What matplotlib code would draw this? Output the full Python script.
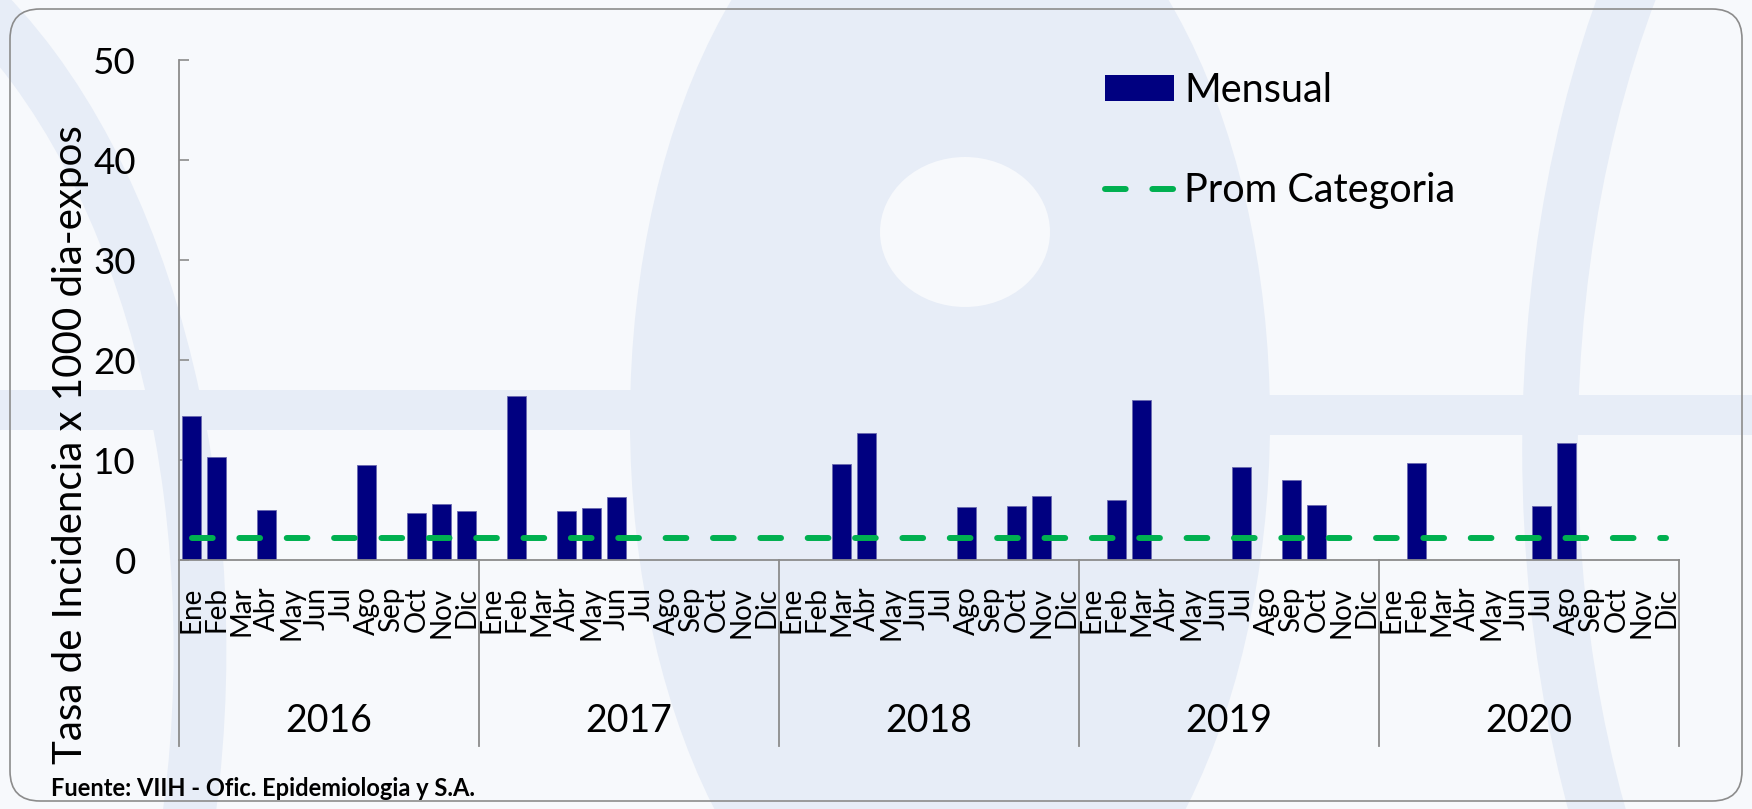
"""
Tasa de incidencia mensual 2016-2020 con promedio de categoria.
"""

import matplotlib
matplotlib.use("Agg")
import matplotlib.pyplot as plt
import matplotlib.patches as mpatches
import matplotlib.transforms as mtransforms
from matplotlib.lines import Line2D
import numpy as np

plt.rcParams["font.family"] = ["Lato", "DejaVu Sans"]
plt.rcParams["lines.scale_dashes"] = False

years = ["2016", "2017", "2018", "2019", "2020"]
months = ["Ene", "Feb", "Mar", "Abr", "May", "Jun",
          "Jul", "Ago", "Sep", "Oct", "Nov", "Dic"]

# tasa mensual x 1000 dia-expos, 12 valores por anio (0 = sin casos)
mensual_2016 = [14.4, 10.3, 0, 5.0, 0, 0, 0, 9.5, 0, 4.7, 5.6, 4.9]
mensual_2017 = [0, 16.4, 0, 4.9, 5.2, 6.3, 0, 0, 0, 0, 0, 0]
mensual_2018 = [0, 0, 9.6, 12.7, 0, 0, 0, 5.3, 0, 5.4, 6.4, 0]
mensual_2019 = [0, 6.0, 16.0, 0, 0, 0, 9.3, 0, 8.0, 5.5, 0, 0]
mensual_2020 = [0, 9.7, 0, 0, 0, 0, 5.4, 11.7, 0, 0, 0, 0]
prom_categoria = 2.2

mensual = np.array(mensual_2016 + mensual_2017 + mensual_2018
                   + mensual_2019 + mensual_2020)
x = np.arange(len(mensual))
labels = months * len(years)

fig = plt.figure(figsize=(17.52, 8.09), dpi=100)
fig.patch.set_facecolor("#F7F9FC")

# fondo: marca de agua tipo globo y marco redondeado
bg = fig.add_axes([0, 0, 1, 1], zorder=-5)
bg.set_xlim(0, 1752)
bg.set_ylim(809, 0)
bg.axis("off")
band = "#E7EDF7"
white = "#F7F9FC"
bg.add_patch(mpatches.Ellipse((950, 420), 640, 1150, fc=band, ec="none"))
bg.add_patch(mpatches.Ellipse((965, 232), 170, 150, fc=white, ec="none"))
bg.add_patch(mpatches.Arc((-250, 650), 900, 1500, theta1=-90, theta2=75, ec=band, lw=38))
bg.add_patch(mpatches.Arc((250, 900), 700, 1500, theta1=20, theta2=110, ec=band, lw=34))
bg.add_patch(mpatches.Arc((2050, 450), 1000, 1700, theta1=95, theta2=265, ec=band, lw=40))
bg.add_patch(mpatches.Arc((1500, 950), 700, 1500, theta1=70, theta2=160, ec=band, lw=34))
bg.add_patch(mpatches.Rectangle((0, 390), 700, 40, fc=band, ec="none"))
bg.add_patch(mpatches.Rectangle((1200, 395), 552, 40, fc=band, ec="none"))
bg.add_patch(mpatches.FancyBboxPatch((10, 9), 1732, 792,
                                     boxstyle="round,pad=0,rounding_size=30",
                                     fc="none", ec="#8C8C8C", lw=1.2))

ax = fig.add_axes([179 / 1752, 249 / 809, 1500 / 1752, 500 / 809])
ax.set_facecolor("none")

hay = mensual > 0
ax.bar(x[hay], mensual[hay], width=0.73, color="#000080",
       edgecolor="#6a6ab0", linewidth=0.6, label="Mensual", zorder=2)
ax.plot(x, np.full(len(x), prom_categoria), color="#00B050", lw=4.3,
        dashes=(14.9, 19.2), dash_capstyle="round", zorder=3,
        label="Prom Categoria")

ax.set_xlim(-0.5, len(x) - 0.5)
ax.set_ylim(0, 50)
ax.set_yticks([0, 10, 20, 30, 40, 50])
ax.tick_params(axis="y", direction="in", length=7, width=1.2, color="#8C8C8C",
               labelsize=26.5, pad=31)
ax.set_xticks(x)
ax.set_xticklabels(labels, rotation=90, va="top", ha="center", fontsize=20)
ax.tick_params(axis="x", length=0, pad=19)

for side in ["top", "right"]:
    ax.spines[side].set_visible(False)
for side in ["left", "bottom"]:
    ax.spines[side].set_color("#8C8C8C")
    ax.spines[side].set_linewidth(1.3)

# separadores y etiquetas de anio
trans = mtransforms.blended_transform_factory(ax.transData, ax.transAxes)
for i in range(len(years) + 1):
    ax.plot([i * 12 - 0.5] * 2, [0, -0.372], transform=trans, color="#8C8C8C",
            lw=1.3, clip_on=False)
for i, year in enumerate(years):
    ax.text(i * 12 + 5.5, -0.322, year, transform=trans, ha="center",
            va="center", fontsize=27)

fig.text(0.040, 0.451, "Tasa de Incidencia x 1000 dia-expos", rotation=90,
         ha="center", va="center", fontsize=29)
fig.text(0.029, 0.025, "Fuente: VIIH - Ofic. Epidemiologia y S.A.",
         fontsize=17, fontweight="bold", ha="left", va="center")

handles = [mpatches.Patch(facecolor="#000080", edgecolor="none"),
           Line2D([], [], color="#00B050", lw=4.3, dashes=(14.9, 19.2),
                  dash_capstyle="round")]
fig.legend(handles, ["Mensual", "Prom Categoria"], loc="upper left",
           bbox_to_anchor=(1105 / 1752, 1 - 72 / 809), frameon=False,
           fontsize=28.5, handlelength=1.75, handleheight=0.62,
           handletextpad=0.25, labelspacing=1.6, borderpad=0, borderaxespad=0)

plt.savefig("out.png", dpi=100, facecolor=fig.get_facecolor())
